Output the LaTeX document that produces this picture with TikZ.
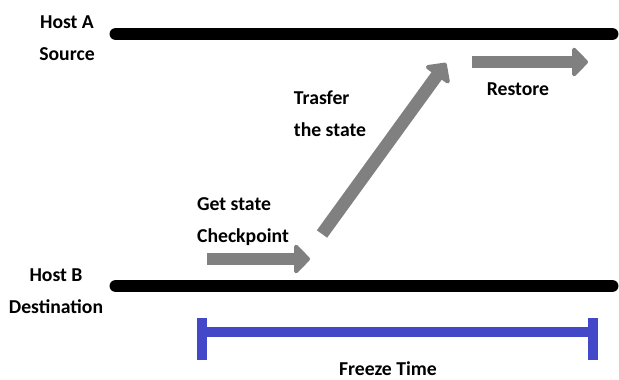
\documentclass[tikz,border=0pt]{standalone}
\usepackage{fontspec}
\setmainfont{Carlito}
\usetikzlibrary{arrows.meta,calc}

\definecolor{movegray}{RGB}{128,128,128}
\definecolor{freezeblue}{RGB}{66,72,200}

\begin{document}
\begin{tikzpicture}[x=0.025cm,y=-0.025cm,
    host/.style={line width=9.2pt,line cap=round},
    move/.style={draw=movegray,line width=9pt,-{Triangle[round,length=12pt,width=24pt]}},
    freeze/.style={draw=freezeblue,line width=7.5pt},
    lbl/.style={font=\bfseries\fontsize{14}{22.7}\selectfont,inner sep=0pt}]
        \useasboundingbox (0,0) rectangle (619,380);
        % the two hosts
        \coordinate (a0) at (116,34);
        \coordinate (a1) at (612,34);
        \coordinate (b0) at (116,286);
        \coordinate (b1) at (612,286);
        \draw[host] (a0) -- (a1);
        \draw[host] (b0) -- (b1);
        \node[lbl,align=center] (hosta) at (67,38) {Host A\\Source};
        \node[lbl,align=center] (hostb) at (56,291) {Host B\\Destination};
        % migration steps
        \coordinate (c0) at (207,259);
        \coordinate (c1) at (310,259);
        \coordinate (t0) at (322,234);
        \coordinate (t1) at (446,63);
        \coordinate (r0) at (472,62);
        \coordinate (r1) at (588,62);
        \draw[move] (c0) -- (c1);
        \draw[move] (t0) -- (t1);
        \draw[move] (r0) -- (r1);
        \node[lbl,align=left] (getstate) at (243,222) {Get state\\Checkpoint};
        \node[lbl,align=left] (trasfer) at (330,114) {Trasfer\\the state};
        \node[lbl] (restore) at (518,89) {Restore};
        % freeze interval
        \coordinate (f0) at (202,332);
        \coordinate (f1) at (593,332);
        \draw[freeze] (f0) -- (f1);
        \foreach \p in {f0,f1}
          \draw[freeze,line width=6.5pt] ($(\p)+(0,-14)$) -- ($(\p)+(0,28)$);
        \node[lbl] (freezetime) at (388,369) {Freeze Time};
      \end{tikzpicture}
\end{document}
